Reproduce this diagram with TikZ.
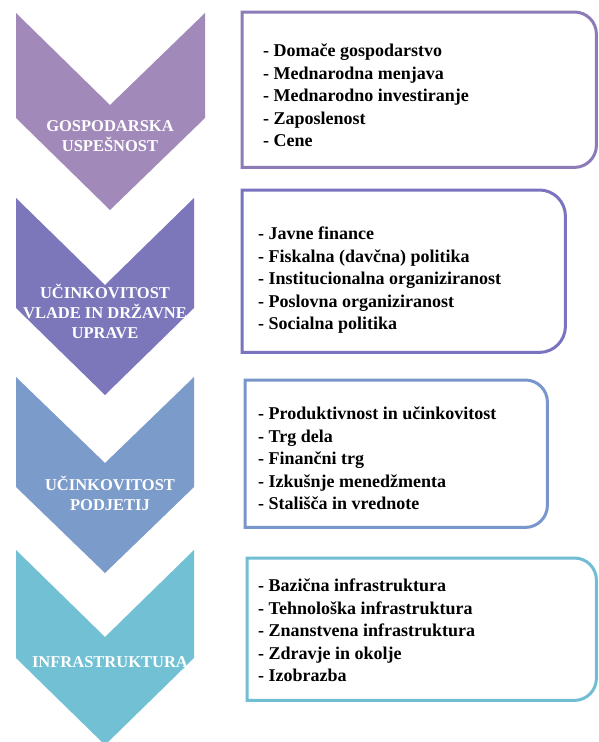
\documentclass[tikz,border=0pt]{standalone}
\usepackage{fontspec}
\setmainfont{Liberation Serif}
\newfontfamily\timesfont{Liberation Serif}
\usepackage{xcolor}
\usetikzlibrary{calc,positioning}

\definecolor{econfill}{HTML}{A18AB9}
\definecolor{govfill}{HTML}{7B77BA}
\definecolor{busfill}{HTML}{7B9BCB}
\definecolor{infrafill}{HTML}{72C0D3}
\definecolor{econline}{HTML}{8D7BB8}
\definecolor{govline}{HTML}{7A73C0}
\definecolor{busline}{HTML}{7896CC}
\definecolor{infraline}{HTML}{71BDD3}

\begin{document}
\begin{tikzpicture}[x=1pt,y=1pt]
      \tikzstyle{lnode} = [text=white, inner sep=0pt, align=center, font=\timesfont\bfseries\fontsize{16.5}{20}\selectfont]
      \tikzstyle{fnode} = [inner sep=0pt, anchor=north west]
      \tikzstyle{tnode} = [inner sep=0pt, align=left, font=\timesfont\bfseries\fontsize{18}{22.4}\selectfont]
      \tikzstyle{bline} = [line width=3pt]

      \useasboundingbox (0,0) rectangle (598,-742);
      \fill[white] (0,0) rectangle (598,-742);

      % chevrons
      \fill[econfill] (16,-13) -- (110,-105) -- (205,-13) -- (205,-118) -- (110,-210) -- (16,-118) -- cycle;
      \fill[govfill] (16,-198) -- (105,-285) -- (194,-198) -- (194,-308) -- (105,-395) -- (16,-308) -- cycle;
      \fill[busfill] (16,-377) -- (105,-463) -- (194,-377) -- (194,-487) -- (105,-573) -- (16,-487) -- cycle;
      \fill[infrafill] (16,-550) -- (105,-637) -- (194,-550) -- (194,-658) -- (105,-745) -- (16,-658) -- cycle;

      \node[lnode] (econ) at (110,-136) {GOSPODARSKA\\USPEŠNOST};
      \node[lnode] (gov) at (105,-311) {UČINKOVITOST\\VLADE IN DRŽAVNE\\UPRAVE};
      \node[lnode] (bus) at (110,-493) {UČINKOVITOST\\PODJETIJ};
      \node[lnode] (infra) at (110,-662) {INFRASTRUKTURA};

      % frames
      \node[fnode, minimum width=354, minimum height=155] (econbox) at (242,-12) {};
      \node[fnode, minimum width=323, minimum height=162] (govbox) at (242,-190) {};
      \node[fnode, minimum width=302, minimum height=147] (busbox) at (245,-380) {};
      \node[fnode, minimum width=349, minimum height=142] (infrabox) at (247,-558) {};

      \draw[bline, econline] (econbox.south west) -- (econbox.north west) -- ([xshift=-22]econbox.north east)
        arc[start angle=90, end angle=0, radius=22] -- ([yshift=22]econbox.south east)
        arc[start angle=0, end angle=-90, radius=22] -- cycle;
      \draw[bline, govline] (govbox.south west) -- (govbox.north west) -- ([xshift=-26]govbox.north east)
        arc[start angle=90, end angle=0, radius=26] -- ([yshift=26]govbox.south east)
        arc[start angle=0, end angle=-90, radius=26] -- cycle;
      \draw[bline, busline] (busbox.south west) -- (busbox.north west) -- ([xshift=-22]busbox.north east)
        arc[start angle=90, end angle=0, radius=22] -- ([yshift=22]busbox.south east)
        arc[start angle=0, end angle=-90, radius=22] -- cycle;
      \draw[bline, infraline] (infrabox.south west) -- (infrabox.north west) -- ([xshift=-22]infrabox.north east)
        arc[start angle=90, end angle=0, radius=22] -- ([yshift=22]infrabox.south east)
        arc[start angle=0, end angle=-90, radius=22] -- cycle;

      % lists
      \node[tnode, below right=32 and 21 of econbox.north west] (econlist)
        {- Domače gospodarstvo\\- Mednarodna menjava\\- Mednarodno investiranje\\- Zaposlenost\\- Cene};
      \node[tnode, below right=37 and 16 of govbox.north west] (govlist)
        {- Javne finance\\- Fiskalna (davčna) politika\\- Institucionalna organiziranost\\- Poslovna organiziranost\\- Socialna politika};
      \node[tnode, below right=27 and 13 of busbox.north west] (buslist)
        {- Produktivnost in učinkovitost\\- Trg dela\\- Finančni trg\\- Izkušnje menedžmenta\\- Stališča in vrednote};
      \node[tnode, below right=21 and 11 of infrabox.north west] (infralist)
        {- Bazična infrastruktura\\- Tehnološka infrastruktura\\- Znanstvena infrastruktura\\- Zdravje in okolje\\- Izobrazba};
\end{tikzpicture}
\end{document}
